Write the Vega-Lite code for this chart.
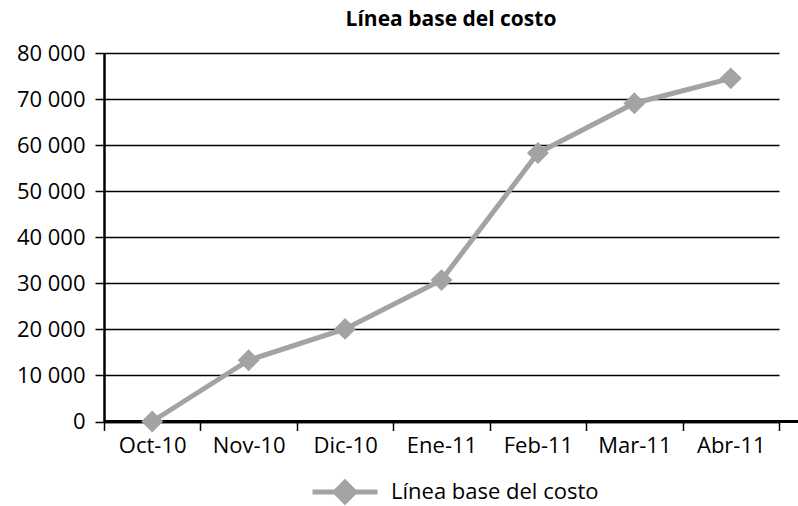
{
  "$schema": "https://vega.github.io/schema/vega-lite/v6.json",
  "autosize": {"type": "none"},
  "padding": {"left": 104, "top": 53, "right": 0, "bottom": 84.5},
  "width": 694,
  "height": 368.5,
  "background": "white",
  "title": {"text": "Línea base del costo", "font": "Open Sans", "fontSize": 21, "fontWeight": "bold", "color": "#000000", "anchor": "middle", "offset": 12},
  "data": {"values": [
    {"mes": "Oct-10", "costo": 0, "serie": "Línea base del costo"},
    {"mes": "Nov-10", "costo": 13300, "serie": "Línea base del costo"},
    {"mes": "Dic-10", "costo": 20100, "serie": "Línea base del costo"},
    {"mes": "Ene-11", "costo": 30700, "serie": "Línea base del costo"},
    {"mes": "Feb-11", "costo": 58300, "serie": "Línea base del costo"},
    {"mes": "Mar-11", "costo": 69100, "serie": "Línea base del costo"},
    {"mes": "Abr-11", "costo": 74500, "serie": "Línea base del costo"}
  ]},
  "layer": [
    {
      "mark": {"type": "rule", "color": "#000000", "strokeWidth": 2.5},
      "encoding": {"y": {"datum": 0}}
    },
    {
      "mark": {"type": "line", "strokeWidth": 5, "point": {"shape": "diamond", "size": 480, "filled": true, "opacity": 1}},
      "encoding": {
        "x": {
          "field": "mes", "type": "ordinal", "sort": null, "bandPosition": 0.5,
          "scale": {"type": "band", "paddingInner": 0, "paddingOuter": 0, "range": [0, 675]},
          "axis": {"title": null, "tickBand": "extent", "labelAngle": 0, "labelFont": "Open Sans", "labelFontSize": 22, "labelColor": "#000000", "labelPadding": 5, "tickSize": 9, "tickColor": "#000000", "tickWidth": 1.5, "domainColor": "#000000", "domainWidth": 2.5, "grid": false}
        },
        "y": {
          "field": "costo", "type": "quantitative",
          "scale": {"domain": [0, 80000], "nice": false},
          "axis": {"title": null, "values": [0, 10000, 20000, 30000, 40000, 50000, 60000, 70000, 80000], "labelExpr": "replace(format(datum.value, ','), ',', ' ')", "labelFont": "Open Sans", "labelFontSize": 22, "labelColor": "#000000", "labelPadding": 10, "tickSize": 9, "tickColor": "#000000", "tickWidth": 1.5, "domainColor": "#000000", "domainWidth": 2.5, "grid": true, "gridColor": "#000000", "gridWidth": 1.3, "gridOpacity": 1}
        },
        "color": {
          "field": "serie", "type": "nominal",
          "scale": {"range": ["#a3a3a5"]},
          "legend": {"title": null, "orient": "none", "legendX": 206, "legendY": 404, "symbolType": "M-1,0L1,0M0,-0.3L0.3,0L0,0.3L-0.3,0Z", "symbolSize": 4225, "symbolStrokeWidth": 5, "symbolFillColor": "#a3a3a5", "symbolStrokeColor": "#a3a3a5", "labelFont": "Open Sans", "labelFontSize": 22, "labelColor": "#000000", "labelOffset": 11, "labelLimit": 400, "symbolOpacity": 1}
        }
      }
    }
  ],
  "config": {"view": {"stroke": null}}
}
